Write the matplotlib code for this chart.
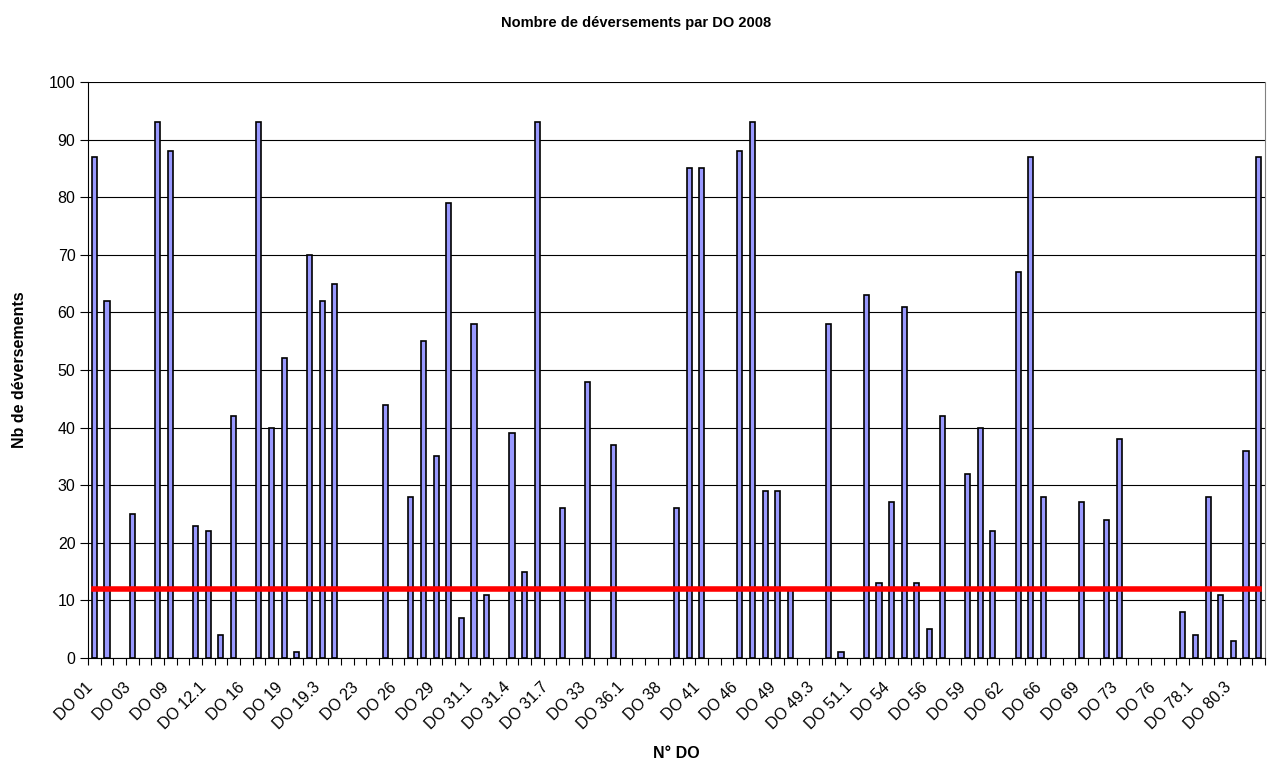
import numpy as np
import matplotlib
matplotlib.use('Agg')
import matplotlib.pyplot as plt

plt.rcParams['font.family'] = ['Liberation Sans', 'DejaVu Sans']

# Nombre de deversements par DO (93 ouvrages, 0 = pas de deversement)
deversements = [
    87, 62, 0, 25, 0, 93, 88, 0, 23, 22,
    4, 42, 0, 93, 40, 52, 1, 70, 62, 65,
    0, 0, 0, 44, 0, 28, 55, 35, 79, 7,
    58, 11, 0, 39, 15, 93, 0, 26, 0, 48,
    0, 37, 0, 0, 0, 0, 26, 85, 85, 0,
    0, 88, 93, 29, 29, 12, 0, 0, 58, 1,
    0, 63, 13, 27, 61, 13, 5, 42, 0, 32,
    40, 22, 0, 67, 87, 28, 0, 0, 27, 0,
    24, 38, 0, 0, 0, 0, 8, 4, 28, 11,
    3, 36, 87,
]

# etiquettes visibles (une categorie sur trois)
etiquettes = [
    'DO 01', 'DO 03', 'DO 09', 'DO 12.1', 'DO 16', 'DO 19', 'DO 19.3',
    'DO 23', 'DO 26', 'DO 29', 'DO 31.1', 'DO 31.4', 'DO 31.7', 'DO 33',
    'DO 36.1', 'DO 38', 'DO 41', 'DO 46', 'DO 49', 'DO 49.3', 'DO 51.1',
    'DO 54', 'DO 56', 'DO 59', 'DO 62', 'DO 66', 'DO 69', 'DO 73',
    'DO 76', 'DO 78.1', 'DO 80.3',
]

seuil = 12

n = len(deversements)
x = np.arange(n)
hauteurs = np.array(deversements, dtype=float)
hauteurs[hauteurs == 0] = np.nan  # pas de barre visible pour 0

fig = plt.figure(figsize=(12.73, 7.65), dpi=100)
ax = fig.add_axes([88/1273, 1 - 658/765, (1265 - 88)/1273, (658 - 82)/765])

# grille horizontale
ax.set_axisbelow(True)
ax.yaxis.grid(True, color='black', linewidth=0.8)

# barres
ax.bar(x, hauteurs, width=0.4, color='#9999FF', edgecolor='black', linewidth=1.2, zorder=2)

# seuil
ax.plot(x, np.full(n, seuil), color='#FF0000', linewidth=4, zorder=3)

ax.set_xlim(-0.5, n - 0.5)
ax.set_ylim(0, 100)
ax.set_yticks(np.arange(0, 101, 10))

# graduations entre categories
ax.set_xticks(np.arange(-0.5, n, 1.0))
ax.set_xticklabels([])
ax.tick_params(axis='x', which='major', length=5, color='black', width=0.8)
ax.tick_params(axis='y', length=6, labelsize=11.5, width=0.8, pad=3)

# etiquettes une sur trois, inclinees a 45 degres
pos_etiq = np.arange(0, n, 3)[:len(etiquettes)]
for p, lab in zip(pos_etiq, etiquettes):
    ax.annotate(lab, xy=(p, 0), xycoords=('data', 'axes fraction'),
                xytext=(-4, -27), textcoords='offset pixels',
                rotation=45, ha='right', va='center', rotation_mode='anchor',
                fontsize=11.5, annotation_clip=False)

ax.spines['top'].set_visible(False)
ax.spines['right'].set_color('#808080')
ax.spines['left'].set_color('black')
ax.spines['bottom'].set_color('black')

fig.text(0.5, 1 - 23/765, 'Nombre de déversements par DO 2008', ha='center', va='center',
         fontsize=10.5, fontweight='bold')
fig.text(20/1273, 1 - 370/765, 'Nb de déversements', ha='center', va='center',
         rotation=90, fontsize=11.5, fontweight='bold')
fig.text((88 + 1265)/2/1273, 1 - 754/765, 'N° DO', ha='center', va='center',
         fontsize=11.5, fontweight='bold')

fig.savefig('out.png', dpi=100)
